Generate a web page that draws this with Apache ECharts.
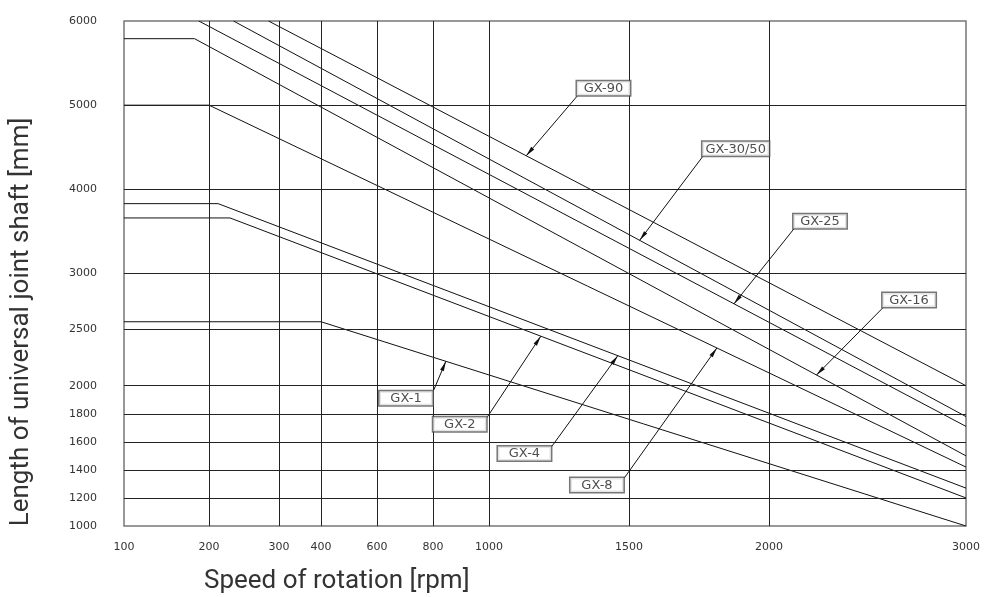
<!DOCTYPE html>
<html>
<head>
<meta charset="utf-8">
<script src="https://cdn.jsdelivr.net/npm/echarts@6/dist/echarts.min.js"></script>
<style>
    html, body { margin: 0; background: #fff; }
    #chart { width: 995px; height: 597px; }
</style>
</head>
<body>
<div id="chart"></div>
<script>
// axis ticks and where they fall on the (non uniform) drawing scale
var xTicks = [100, 200, 300, 400, 600, 800, 1000, 1500, 2000, 3000];
var xScale = [0, 85, 155, 197, 253, 309, 365, 505, 645, 842];
var yTicks = [1000, 1200, 1400, 1600, 1800, 2000, 2500, 3000, 4000, 5000, 6000];
var yScale = [0, 28, 56, 84, 112, 140, 196, 252, 336, 420, 504];

// curves: [rpm, mm] break points
var gx90   = [[285, 6000], [3000, 2000]];
var gx3050 = [[235, 6000], [3000, 1780]];
var gx25   = [[188, 6000], [3000, 1710]];
var gx16   = [[100, 5790], [183, 5790], [3000, 1500]];
var gx8    = [[100, 5000], [200, 5000], [3000, 1420]];
var gx4    = [[100, 3830], [213, 3830], [3000, 1270]];
var gx2    = [[100, 3660], [230, 3660], [3000, 1200]];
var gx1    = [[100, 2570], [400, 2570], [3000, 1000]];

var names  = ['GX-90', 'GX-30/50', 'GX-25', 'GX-16', 'GX-8', 'GX-4', 'GX-2', 'GX-1'];
var curves = [gx90, gx3050, gx25, gx16, gx8, gx4, gx2, gx1];

// callouts: where the arrow hits the curve (rpm) and where the box corner sits
var notes = [
    {tip: 1133, at: [1316, 5112], corner: 'bl'},
    {tip: 1538, at: [1764, 4393], corner: 'bl', auto: true},
    {tip: 1875, at: [2127, 3532], corner: 'bl'},
    {tip: 2241, at: [2579, 2696], corner: 'bl'},
    {tip: 1814, at: [1482, 1339], corner: 'tr'},
    {tip: 1460, at: [1223, 1564], corner: 'tr'},
    {tip: 1185, at: [992, 1771], corner: 'tr'},
    {tip: 846,  at: [800, 1957], corner: 'tr'}
];

// thin arrow head, tip sits in the middle of the symbol box
var arrowHead = 'path://M0,0 M0,10 L2,20 L-2,20 Z';

function lerp(v, from, to) {
    for (var i = 1; i < from.length; i++) {
        if (v <= from[i] || i === from.length - 1) {
            return to[i - 1] + (v - from[i - 1]) / (from[i] - from[i - 1]) * (to[i] - to[i - 1]);
        }
    }
}
function toAxis(p) {
    return [lerp(p[0], xTicks, xScale), lerp(p[1], yTicks, yScale)];
}
// y (axis units) of a drawn curve at axis x u
function curveAt(pts, u) {
    for (var i = 1; i < pts.length; i++) {
        if (u <= pts[i][0] || i === pts.length - 1) {
            var a = pts[i - 1], b = pts[i];
            return a[1] + (u - a[0]) / (b[0] - a[0]) * (b[1] - a[1]);
        }
    }
}

var font = 'DejaVu Sans';
var series = [];

// grid lines
series.push({
    type: 'line',
    data: [],
    silent: true,
    markLine: {
        silent: true,
        symbol: 'none',
        animation: false,
        label: {show: false},
        lineStyle: {color: '#222', width: 1, type: 'solid'},
        data: xScale.slice(1, -1).map(function (u) { return {xAxis: u}; })
            .concat(yScale.slice(1, -1).map(function (v) { return {yAxis: v}; }))
    }
});

curves.forEach(function (c, i) {
    var pts = c.map(toAxis);
    var tipU = lerp(notes[i].tip, xTicks, xScale);
    var tip = [tipU, curveAt(pts, tipU)];
    series.push({
        type: 'line',
        name: names[i],
        data: pts,
        symbol: 'none',
        silent: true,
        z: 3,
        lineStyle: {color: '#111', width: 1},
        markLine: {
            silent: true,
            animation: false,
            symbol: ['none', arrowHead],
            symbolSize: 20,
            label: {show: false},
            lineStyle: {color: '#111', width: 1, type: 'solid'},
            data: [[
                {coord: toAxis(notes[i].at)},
                {coord: tip, symbolKeepAspect: true}
            ]]
        }
    });
});

// callout boxes
series.push({
    type: 'scatter',
    symbol: 'rect',
    symbolSize: 1,
    silent: true,
    z: 5,
    itemStyle: {color: 'transparent'},
    data: notes.map(function (n, i) {
        var bl = n.corner === 'bl';
        return {
            value: toAxis(n.at),
            label: {
                show: true,
                position: [0, 0],
                align: bl ? 'left' : 'right',
                verticalAlign: bl ? 'bottom' : 'top',
                formatter: '{t|' + names[i] + '}',
                backgroundColor: '#fff',
                borderColor: '#555',
                borderWidth: 1.5,
                padding: [1, 3, 0, 3],
                rich: {
                    t: {
                        width: n.auto ? null : 47,
                        align: 'center',
                        fontFamily: font,
                        fontSize: 13,
                        lineHeight: 13,
                        color: '#222'
                    }
                }
            }
        };
    })
});

var chart = echarts.init(document.getElementById('chart'), null, {renderer: 'canvas'});
chart.setOption({
    animation: false,
    backgroundColor: '#fff',
    grid: {
        left: 124, right: 29, top: 21, bottom: 71,
        show: true, borderColor: '#777', borderWidth: 1.5,
        outerBoundsMode: 'none'
    },
    xAxis: {
        type: 'value',
        min: 0, max: 842,
        axisLine: {show: false},
        axisTick: {show: false},
        splitLine: {show: false},
        axisLabel: {
            customValues: xScale,
            margin: 16,
            fontFamily: font,
            fontSize: 11,
            color: '#333',
            formatter: function (v) { return xTicks[xScale.indexOf(v)]; }
        }
    },
    yAxis: {
        type: 'value',
        min: 0, max: 504,
        axisLine: {show: false},
        axisTick: {show: false},
        splitLine: {show: false},
        axisLabel: {
            customValues: yScale,
            margin: 27,
            fontFamily: font,
            fontSize: 11,
            color: '#333',
            formatter: function (v) { return yTicks[yScale.indexOf(v)]; }
        }
    },
    graphic: [
        {
            type: 'text', x: 204, y: 581,
            style: {text: 'Speed of rotation [rpm]', font: '26px Roboto', fill: '#333', verticalAlign: 'middle'}
        },
        {
            type: 'text', x: 21, y: 322, rotation: Math.PI / 2,
            style: {text: 'Length of universal joint shaft [mm]', font: '26px Roboto', fill: '#333',
                align: 'center', verticalAlign: 'middle'}
        }
    ],
    series: series
});
</script>
</body>
</html>
